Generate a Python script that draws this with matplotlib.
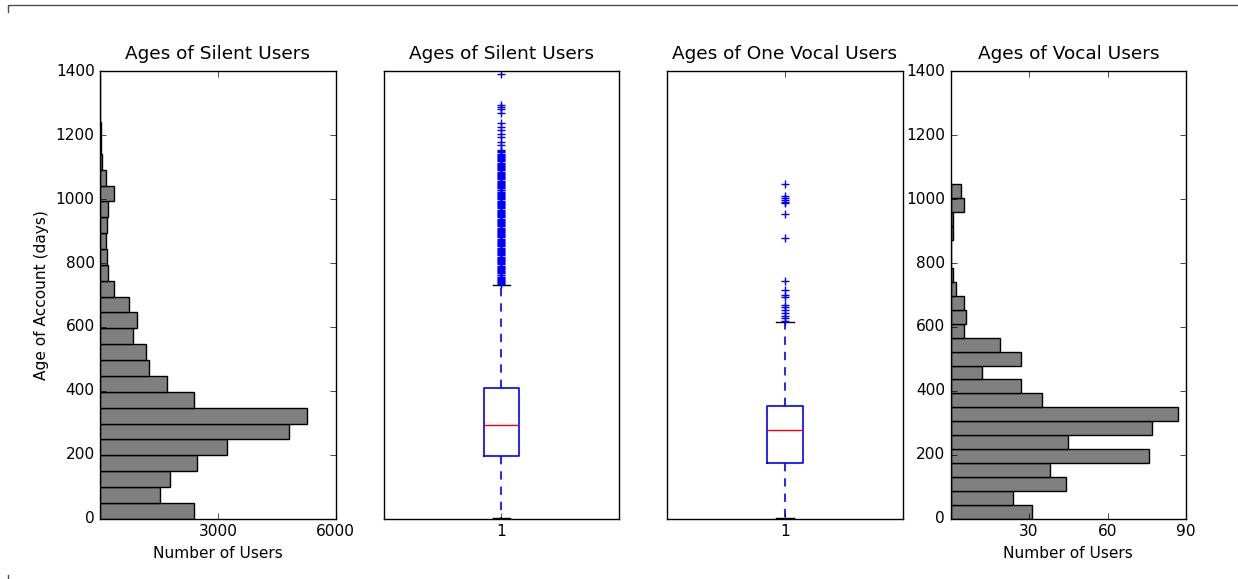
import numpy as np
import matplotlib
matplotlib.use("Agg")
import matplotlib.pyplot as plt
from matplotlib.lines import Line2D

# histogram counts per age bin (bottom bin first)
silent_counts = [2390, 1530, 1770, 2460, 3220, 4820, 5270, 2390, 1700, 1250,
                 1170, 840, 930, 730, 340, 195, 170, 153, 178, 204,
                 347, 153, 51, 25, 10, 5, 3, 1]
silent_max_age = 1390
vocal_counts = [31, 24, 44, 38, 76, 45, 77, 87, 35, 27, 12, 27, 19, 5, 6, 5,
                2, 1, 0, 0, 1, 1, 5, 4]
vocal_max_age = 1046

# boxplot summaries
silent_box = dict(q1=197, med=294, q3=409, whislo=1, whishi=731)
silent_fliers = [733, 736, 740, 743, 747, 750, 754, 757, 761, 764, 768, 771,
                 775, 778, 782, 785, 789, 792, 796, 799, 803, 806, 810, 813,
                 817, 820, 824, 827, 831, 834, 838, 841, 845, 848, 852, 855,
                 859, 862, 866, 869, 873, 876, 880, 883, 887, 890, 894, 897,
                 901, 904, 908, 911, 915, 918, 922, 925, 929, 932, 936, 939,
                 943, 946, 950, 953, 957, 960, 964, 967, 971, 974, 978, 981,
                 985, 988, 992, 995, 999, 1002, 1006, 1009, 1013, 1016, 1020,
                 1023, 1027, 1030, 1034, 1037, 1041, 1044, 1048, 1051, 1055,
                 1058, 1062, 1065, 1069, 1072, 1076, 1079, 1083, 1086, 1090,
                 1093, 1097, 1100, 1104, 1107, 1111, 1114, 1118, 1121, 1125,
                 1128, 1132, 1135, 1139, 1142, 1146, 1150, 1153,
                 1169, 1179, 1195, 1205, 1216, 1226, 1237, 1268, 1283, 1287,
                 1294, 1390]
vocal_box = dict(q1=175, med=278, q3=353, whislo=1, whishi=617)
vocal_fliers = [620, 627, 634, 643, 653, 663, 669, 695, 700, 716, 744, 877,
                953, 987, 992, 997, 1004, 1010, 1046]

plt.style.use("classic")
plt.rcParams["font.size"] = 11.1
plt.rcParams["figure.facecolor"] = "white"
plt.rcParams["savefig.facecolor"] = "white"

fig, axes = plt.subplots(1, 4, figsize=(12.38, 5.79), dpi=100)
fig.subplots_adjust(left=0.081, right=0.958, top=0.877, bottom=0.104, wspace=0.204)


def hist_panel(ax, counts, max_age, title, xmax, xticks):
    edges = np.linspace(0, max_age, len(counts) + 1)
    ax.barh(edges[:-1], counts, height=np.diff(edges), align="edge",
            color="0.5", edgecolor="k", linewidth=1)
    ax.set_xlim(0, xmax)
    ax.set_ylim(0, 1400)
    ax.set_xticks(xticks)
    ax.set_yticks(range(0, 1401, 200))
    ax.set_xlabel("Number of Users")
    ax.set_title(title, pad=9)


def box_panel(ax, stats, fliers, title):
    s = dict(stats, fliers=fliers, label="1")
    ax.bxp([s], positions=[1], widths=0.15, showfliers=True,
           boxprops=dict(linewidth=1.2),
           whiskerprops=dict(linewidth=1.2, dashes=(6, 5)),
           flierprops=dict(marker="+", markeredgecolor="b", color="b",
                           linestyle="none", markersize=6))
    ax.set_xlim(0.5, 1.5)
    ax.set_ylim(0, 1400)
    ax.tick_params(axis="y", left=False, right=False, labelleft=False)
    ax.set_title(title, pad=9)


hist_panel(axes[0], silent_counts, silent_max_age, "Ages of Silent Users", 6000, [3000, 6000])
axes[0].set_ylabel("Age of Account (days)")
box_panel(axes[1], silent_box, silent_fliers, "Ages of Silent Users")
box_panel(axes[2], vocal_box, vocal_fliers, "Ages of One Vocal Users")
hist_panel(axes[3], vocal_counts, vocal_max_age, "Ages of Vocal Users", 90, [30, 60, 90])

# frame left over from the page the chart was cut from
W, H = 1238.0, 579.0
fig.add_artist(Line2D([8 / W, 8 / W, 1], [1 - 12 / H, 1 - 5 / H, 1 - 5 / H],
                      transform=fig.transFigure, color="0.3", linewidth=1))
fig.add_artist(Line2D([8 / W, 8 / W], [0, 4 / H],
                      transform=fig.transFigure, color="0.3", linewidth=1))

fig.savefig("out.png", dpi=100)
